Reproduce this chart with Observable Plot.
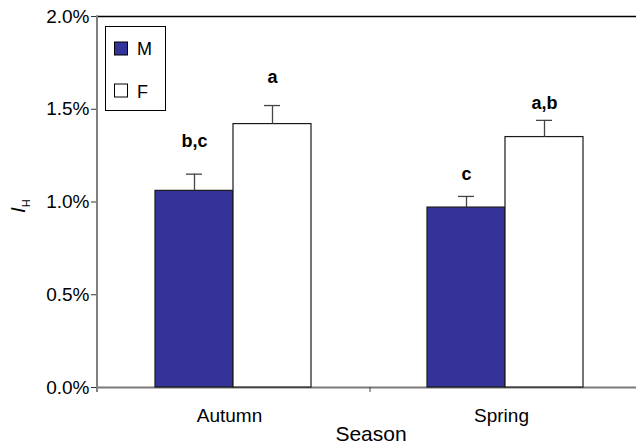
<!DOCTYPE html>
<html><head><meta charset="utf-8">
<script src="https://cdn.jsdelivr.net/npm/d3@7"></script>
<script src="https://cdn.jsdelivr.net/npm/@observablehq/plot@0.6"></script>
<style>
html,body{margin:0;padding:0;background:#fff;overflow:hidden;}
#chart{width:636px;height:446px;overflow:hidden;}
</style></head><body><div id="chart"></div>
<script>
const seasons = ["Autumn", "Spring"];
const sexes = ["M", "F"];
const sexColors = ["#333399", "#ffffff"];
const meanM = [1.06, 0.97];
const meanF = [1.42, 1.35];
const errM = [1.15, 1.03];
const errF = [1.52, 1.44];
const lettersM = ["b,c", "c"];
const lettersF = ["a", "a,b"];
const letterYM = [1.33, 1.15];
const letterYF = [1.67, 1.53];
const yTicks = [0, 0.5, 1.0, 1.5, 2.0];
const xLabel = "Season";

const data = [];
seasons.forEach((s, i) => {
  data.push({season: s, sex: "M", value: meanM[i], err: errM[i], letter: lettersM[i], ly: letterYM[i]});
  data.push({season: s, sex: "F", value: meanF[i], err: errF[i], letter: lettersF[i], ly: letterYF[i]});
});

const font = "'Liberation Sans', Arial, Helvetica, sans-serif";
const plot = Plot.plot({
  width: 636, height: 446,
  marginLeft: 97, marginRight: 0, marginTop: 16, marginBottom: 59,
  style: {fontFamily: font, fontSize: "19px", color: "#000", background: "#fff"},
  fx: {domain: seasons, range: [97, 641], padding: 0},
  x: {domain: sexes, paddingInner: 0, paddingOuter: 0.7325, align: 0.5, axis: null},
  y: {domain: [0, 2.0]},
  color: {domain: sexes, range: sexColors},
  marks: [
    Plot.ruleY([0], {stroke: "#7a7a7a", strokeWidth: 2}),
    Plot.ruleY([2.0], {stroke: "#000", strokeWidth: 1.5}),
    Plot.barY(data, {fx: "season", x: "sex", y: "value", fill: "sex", stroke: "#1a1a1a", strokeWidth: 1.2, inset: 0}),
    Plot.ruleX(data, {fx: "season", x: "sex", y1: "value", y2: "err", stroke: "#444", strokeWidth: 1.3}),
    Plot.tickY(data, {fx: "season", x: "sex", y: "err", stroke: "#444", strokeWidth: 1.3, insetLeft: 31, insetRight: 31}),
    Plot.text(data, {fx: "season", x: "sex", y: "ly", text: "letter", fontWeight: "bold", fontSize: 18}),
    Plot.axisY({ticks: yTicks, tickFormat: d => d.toFixed(1) + "%", tickSize: 6, tickPadding: 2, fontSize: 19, label: null, stroke: "#333"}),
    Plot.axisFx({anchor: "bottom", tickSize: 0, tickPadding: 21, fontSize: 19, label: null, dx: -4})
  ]
});

const svg = d3.select(plot);
const yS = plot.scale("y"), fxS = plot.scale("fx");
const y0 = yS.apply(0), yTop = yS.apply(2.0);
const left = fxS.range[0];
// y axis line
svg.append("line").attr("x1", left).attr("x2", left).attr("y1", yTop - 0.75).attr("y2", y0 + 5)
  .attr("stroke", "#808080").attr("stroke-width", 2);
// boundary tick between seasons
const bnd = fxS.apply(seasons[1]);
svg.append("line").attr("x1", bnd + 1).attr("x2", bnd + 1).attr("y1", y0).attr("y2", y0 + 5)
  .attr("stroke", "#444").attr("stroke-width", 1);
// x label
svg.append("text").attr("x", bnd + 2).attr("y", 441).attr("text-anchor", "middle")
  .attr("font-size", 21).attr("fill", "#000").text(xLabel);
// y label I_H
const yl = svg.append("text").attr("transform", "translate(25,213) rotate(-90)")
  .attr("text-anchor", "start").attr("font-size", 21).attr("fill", "#000");
yl.append("tspan").attr("font-style", "italic").text("I");
yl.append("tspan").attr("font-size", 11).attr("dy", 5).text("H");
// legend
const cS = plot.scale("color");
const lg = svg.append("g");
lg.append("rect").attr("x", 105.5).attr("y", 26.5).attr("width", 60).attr("height", 84)
  .attr("fill", "#fff").attr("stroke", "#000").attr("stroke-width", 1);
sexes.forEach((s, i) => {
  lg.append("rect").attr("x", 114.5).attr("y", 42 + i * 42).attr("width", 13).attr("height", 13)
    .attr("fill", cS.apply(s)).attr("stroke", "#000").attr("stroke-width", 1);
  lg.append("text").attr("x", 137).attr("y", 55 + i * 42.5).attr("text-anchor", "start")
    .attr("font-size", 18).attr("fill", "#000").text(s);
});

document.getElementById("chart").appendChild(plot);
</script></body></html>
